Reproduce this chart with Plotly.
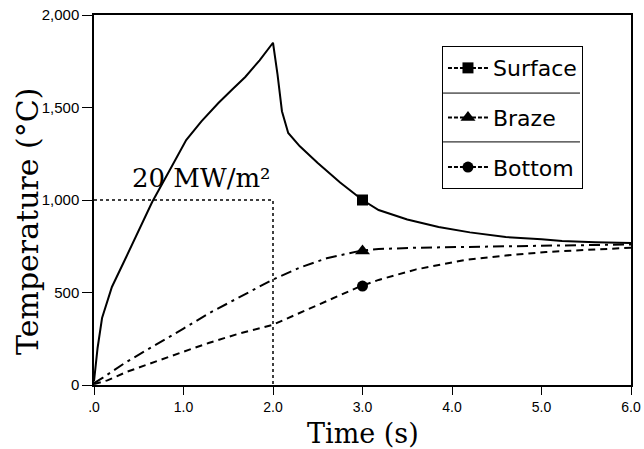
import plotly.graph_objects as go

# Data
surf_t = [0.0, 0.04, 0.09, 0.2, 0.36, 0.5, 0.65, 0.85, 1.03, 1.2, 1.39, 1.55, 1.69, 1.85, 2.0,
          2.05, 2.1, 2.17, 2.3, 2.5, 2.75, 3.0, 3.18, 3.5, 3.85, 4.2, 4.6, 5.0, 5.23, 5.6, 6.0]
surf_T = [20, 200, 362, 530, 692, 840, 989, 1165, 1324, 1425, 1524, 1600, 1665, 1755, 1850,
          1680, 1480, 1362, 1290, 1200, 1095, 1000, 946, 895, 854, 825, 800, 788, 778, 772, 768]

braze_t = [0.0, 0.1, 0.36, 0.73, 1.0, 1.29, 1.6, 1.99, 2.3, 2.6, 2.97, 3.18, 3.6, 4.0, 4.6, 5.2, 6.0]
braze_T = [10, 40, 124, 227, 305, 389, 470, 568, 635, 685, 725, 735, 742, 746, 750, 754, 760]

bottom_t = [0.0, 0.15, 0.36, 0.73, 1.0, 1.28, 1.6, 1.99, 2.3, 2.6, 2.96, 3.18, 3.6, 4.15, 4.6, 5.05, 5.5, 6.0]
bottom_T = [5, 25, 70, 135, 180, 227, 275, 324, 390, 455, 530, 568, 625, 676, 700, 719, 730, 742]

marker_t = 3.0
surf_mark = 1000
braze_mark = 725
bottom_mark = 535

flux_t = [0.0, 2.0, 2.0]
flux_T = [1000, 1000, 0]

x_ticks = [0, 1, 2, 3, 4, 5, 6]
x_labels = [".0", "1.0", "2.0", "3.0", "4.0", "5.0", "6.0"]
y_ticks = [0, 500, 1000, 1500, 2000]
y_labels = ["0", "500", "1,000", "1,500", "2,000"]

fig = go.Figure()

fig.add_trace(go.Scatter(x=flux_t, y=flux_T, mode="lines",
                         line=dict(color="black", width=1.5, dash="dot"),
                         showlegend=False, hoverinfo="skip"))

fig.add_trace(go.Scatter(x=surf_t, y=surf_T, mode="lines",
                         line=dict(color="black", width=2), showlegend=False))
fig.add_trace(go.Scatter(x=braze_t, y=braze_T, mode="lines",
                         line=dict(color="black", width=2, dash="11px,5px,3px,5px"), showlegend=False))
fig.add_trace(go.Scatter(x=bottom_t, y=bottom_T, mode="lines",
                         line=dict(color="black", width=2, dash="7px,5px"), showlegend=False))

fig.add_trace(go.Scatter(x=[marker_t], y=[surf_mark], mode="lines+markers", name="Surface",
                         legendgroup="a",
                         line=dict(color="black", width=2, dash="4px,2px"),
                         marker=dict(symbol="square", size=11, color="black")))
fig.add_trace(go.Scatter(x=[marker_t], y=[braze_mark], mode="lines+markers", name="Braze",
                         legendgroup="b",
                         line=dict(color="black", width=2, dash="4px,2px"),
                         marker=dict(symbol="triangle-up", size=13, color="black")))
fig.add_trace(go.Scatter(x=[marker_t], y=[bottom_mark], mode="lines+markers", name="Bottom",
                         legendgroup="c",
                         line=dict(color="black", width=2, dash="4px,2px"),
                         marker=dict(symbol="circle", size=11, color="black")))

fig.add_annotation(x=1.2, y=1120, xref="x", yref="y", text="20 MW/m²", showarrow=False,
                   font=dict(family="DejaVu Serif", size=26, color="black"))

# axis titles as annotations for exact placement
fig.add_annotation(x=-0.125, y=0.443, xref="paper", yref="paper", text="Temperature (°C)",
                   textangle=-90, showarrow=False, xanchor="center", yanchor="middle",
                   font=dict(family="DejaVu Serif", size=30, color="black"))
fig.add_annotation(x=0.5, y=-0.1305, xref="paper", yref="paper", text="Time (s)",
                   showarrow=False, xanchor="center", yanchor="middle",
                   font=dict(family="DejaVu Serif", size=27, color="black"))

# legend separators (paper coords)
for yy in [0.789, 0.657]:
    fig.add_shape(type="line", xref="paper", yref="paper", x0=0.65, x1=0.905, y0=yy, y1=yy,
                  line=dict(color="black", width=1))

fig.update_layout(
    width=644, height=449,
    margin=dict(l=94, r=13, t=15, b=64, autoexpand=False),
    plot_bgcolor="white", paper_bgcolor="white",
    showlegend=True,
    legend=dict(x=0.648, y=0.916, xanchor="left", yanchor="top",
                bordercolor="black", borderwidth=1, bgcolor="rgba(0,0,0,0)",
                font=dict(family="DejaVu Sans", size=22, color="black"),
                tracegroupgap=18, itemwidth=40),
)
fig.update_xaxes(range=[0, 6], tickvals=x_ticks, ticktext=x_labels, automargin=False,
                 showline=True, linecolor="black", linewidth=1.5, mirror=True,
                 ticks="outside", ticklen=8, tickcolor="black", showgrid=False, zeroline=False,
                 tickfont=dict(family="Liberation Sans", size=14, color="black"))
fig.update_yaxes(range=[0, 2000], tickvals=y_ticks, ticktext=y_labels, automargin=False,
                 showline=True, linecolor="black", linewidth=1.5, mirror=True,
                 ticks="outside", ticklen=10, tickcolor="black", showgrid=False, zeroline=False,
                 tickfont=dict(family="Liberation Sans", size=15, color="black"))

fig.write_html("out.html", config={"displayModeBar": False},
               post_script="document.body.style.margin='0px';")
